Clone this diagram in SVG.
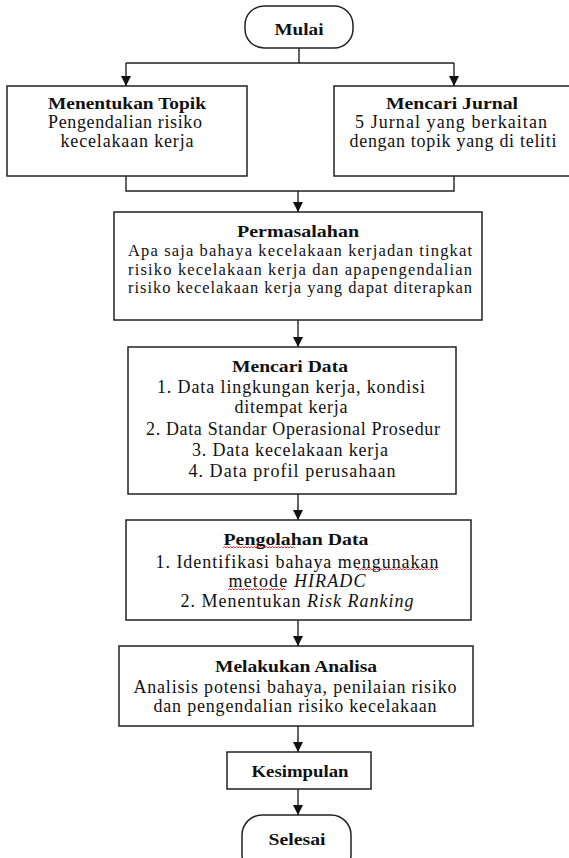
<svg xmlns="http://www.w3.org/2000/svg" width="569" height="858" viewBox="0 0 569 858">
<style>
.box{fill:#fff;stroke:#222;stroke-width:1.5}
.ln{fill:none;stroke:#222;stroke-width:1.4}
text{font-family:"Liberation Serif","DejaVu Serif",serif;font-size:18px;fill:#111;text-anchor:middle}
.b{font-weight:bold;font-size:17.5px}
.s{font-size:16.5px}
.i{font-style:italic}
.sq{fill:none;stroke:#e02020;stroke-width:0.9}
</style>
<defs>
<marker id="ad" markerUnits="userSpaceOnUse" markerWidth="11" markerHeight="12" refX="11" refY="5.5" orient="auto" viewBox="0 0 12 11">
<path d="M0,0 L11,5.5 L0,11 Z" fill="#111"/>
</marker>
</defs>
<rect width="569" height="858" fill="#fff"/>

<g id="connectors">
<path class="ln" d="M299,48 V63 M126,63 H454"/>
<path class="ln" d="M126,63 V86" marker-end="url(#ad)"/>
<path class="ln" d="M454,63 V86" marker-end="url(#ad)"/>
<path class="ln" d="M126,176 V191 H454 V176"/>
<path class="ln" d="M298,191 V212" marker-end="url(#ad)"/>
<path class="ln" d="M298,320 V347" marker-end="url(#ad)"/>
<path class="ln" d="M298,494 V520" marker-end="url(#ad)"/>
<path class="ln" d="M298,620 V646" marker-end="url(#ad)"/>
<path class="ln" d="M298,726 V752" marker-end="url(#ad)"/>
<path class="ln" d="M298,789 V815" marker-end="url(#ad)"/>
</g>

<g id="mulai">
<rect class="box" x="245" y="6" width="108" height="42" rx="19" ry="19"/>
<text class="b" x="299" y="35" textLength="49" lengthAdjust="spacingAndGlyphs">Mulai</text>
</g>

<g id="menentukan-topik">
<rect class="box" x="7" y="86" width="240" height="90"/>
<text class="b" x="127" y="109" textLength="158" lengthAdjust="spacingAndGlyphs">Menentukan Topik</text>
<text x="125" y="128" textLength="154" lengthAdjust="spacing">Pengendalian risiko</text>
<text x="127" y="147" textLength="133" lengthAdjust="spacing">kecelakaan kerja</text>
</g>

<g id="mencari-jurnal">
<rect class="box" x="334" y="86" width="240" height="90"/>
<text class="b" x="452" y="109" textLength="132" lengthAdjust="spacingAndGlyphs">Mencari Jurnal</text>
<text x="451" y="128" textLength="192" lengthAdjust="spacing">5 Jurnal yang berkaitan</text>
<text x="453" y="147" textLength="207" lengthAdjust="spacing">dengan topik yang di teliti</text>
</g>

<g id="permasalahan">
<rect class="box" x="114" y="212" width="368" height="108"/>
<text class="b" x="298" y="237" textLength="122" lengthAdjust="spacingAndGlyphs">Permasalahan</text>
<text class="s" x="300" y="256" textLength="344" lengthAdjust="spacing">Apa saja bahaya kecelakaan kerjadan tingkat</text>
<text class="s" x="300" y="274.5" textLength="344" lengthAdjust="spacing">risiko kecelakaan kerja dan apapengendalian</text>
<text class="s" x="300" y="293" textLength="344" lengthAdjust="spacing">risiko kecelakaan kerja yang dapat diterapkan</text>
</g>

<g id="mencari-data">
<rect class="box" x="128" y="347" width="328" height="147"/>
<text class="b" x="290" y="372" textLength="116" lengthAdjust="spacingAndGlyphs">Mencari Data</text>
<text x="291" y="393" textLength="268" lengthAdjust="spacing">1. Data lingkungan kerja, kondisi</text>
<text x="291" y="413" textLength="113" lengthAdjust="spacing">ditempat kerja</text>
<text x="293" y="435" textLength="294" lengthAdjust="spacing">2. Data Standar Operasional Prosedur</text>
<text x="290" y="456" textLength="196" lengthAdjust="spacing">3. Data kecelakaan kerja</text>
<text x="292" y="477" textLength="207" lengthAdjust="spacing">4. Data profil perusahaan</text>
</g>

<g id="pengolahan-data">
<rect class="box" x="126" y="520" width="345" height="100"/>
<text class="b" x="296" y="545" textLength="145" lengthAdjust="spacingAndGlyphs">Pengolahan Data</text>
<text x="297" y="568" textLength="283" lengthAdjust="spacing">1. Identifikasi bahaya mengunakan</text>
<text x="297" y="587" textLength="137" lengthAdjust="spacing">metode <tspan class="i">HIRADC</tspan></text>
<text x="297" y="607" textLength="233" lengthAdjust="spacing">2. Menentukan <tspan class="i">Risk Ranking</tspan></text>
<polyline class="sq" points="223,548 224.5,546.5 226,548 227.5,546.5 229,548 230.5,546.5 232,548 233.5,546.5 235,548 236.5,546.5 238,548 239.5,546.5 241,548 242.5,546.5 244,548 245.5,546.5 247,548 248.5,546.5 250,548 251.5,546.5 253,548 254.5,546.5 256,548 257.5,546.5 259,548 260.5,546.5 262,548 263.5,546.5 265,548 266.5,546.5 268,548 269.5,546.5 271,548 272.5,546.5 274,548 275.5,546.5 277,548 278.5,546.5 280,548 281.5,546.5 283,548 284.5,546.5 286,548 287.5,546.5 289,548 290.5,546.5 292,548 293.5,546.5 295,548"/>
<polyline class="sq" points="357,570 358.5,568.5 360,570 361.5,568.5 363,570 364.5,568.5 366,570 367.5,568.5 369,570 370.5,568.5 372,570 373.5,568.5 375,570 376.5,568.5 378,570 379.5,568.5 381,570 382.5,568.5 384,570 385.5,568.5 387,570 388.5,568.5 390,570 391.5,568.5 393,570 394.5,568.5 396,570 397.5,568.5 399,570 400.5,568.5 402,570 403.5,568.5 405,570 406.5,568.5 408,570 409.5,568.5 411,570 412.5,568.5 414,570 415.5,568.5 417,570 418.5,568.5 420,570 421.5,568.5 423,570 424.5,568.5 426,570 427.5,568.5 429,570 430.5,568.5 432,570 433.5,568.5 435,570 436.5,568.5 438,570"/>
<polyline class="sq" points="228,590 229.5,588.5 231,590 232.5,588.5 234,590 235.5,588.5 237,590 238.5,588.5 240,590 241.5,588.5 243,590 244.5,588.5 246,590 247.5,588.5 249,590 250.5,588.5 252,590 253.5,588.5 255,590 256.5,588.5 258,590 259.5,588.5 261,590 262.5,588.5 264,590 265.5,588.5 267,590 268.5,588.5 270,590 271.5,588.5 273,590 274.5,588.5 276,590 277.5,588.5 279,590 280.5,588.5 282,590 283.5,588.5 285,590"/>
</g>

<g id="melakukan-analisa">
<rect class="box" x="119" y="646" width="354" height="80"/>
<text class="b" x="296" y="672" textLength="162" lengthAdjust="spacingAndGlyphs">Melakukan Analisa</text>
<text x="295" y="693" textLength="323" lengthAdjust="spacing">Analisis potensi bahaya, penilaian risiko</text>
<text x="295" y="712" textLength="283" lengthAdjust="spacing">dan pengendalian risiko kecelakaan</text>
</g>

<g id="kesimpulan">
<rect class="box" x="227" y="752" width="144" height="37"/>
<text class="b" x="300" y="777" textLength="97" lengthAdjust="spacingAndGlyphs">Kesimpulan</text>
</g>

<g id="selesai">
<rect class="box" x="242" y="815" width="109" height="60" rx="20" ry="20"/>
<text class="b" x="297" y="845" textLength="57" lengthAdjust="spacingAndGlyphs">Selesai</text>
</g>
</svg>
